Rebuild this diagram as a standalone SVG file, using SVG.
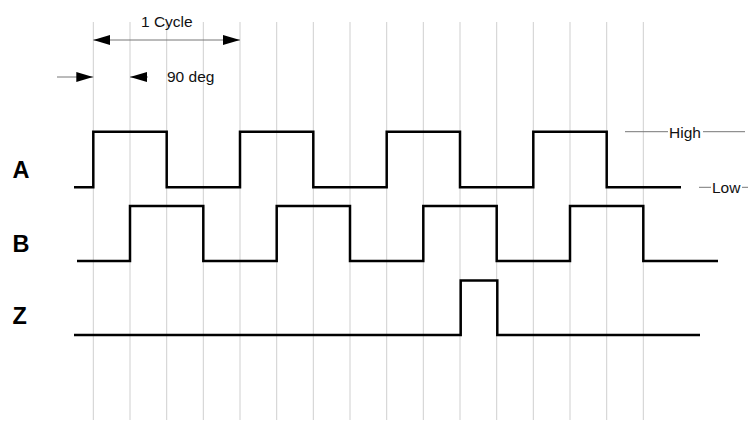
<svg xmlns="http://www.w3.org/2000/svg" width="748" height="421" viewBox="0 0 748 421">
<defs>
<style>
.grid{stroke:#cfcfcf;stroke-width:1;fill:none}
.sig{stroke:#000;stroke-width:2.5;fill:none;stroke-linejoin:miter}
.ann{stroke:#777;stroke-width:1;fill:none}
.lbl{font-family:"Liberation Sans",Arial,sans-serif;font-weight:bold;font-size:23.5px;fill:#000}
.txt{font-family:"Liberation Sans",Arial,sans-serif;font-size:15.5px;fill:#111}
</style>
<marker id="ah" viewBox="0 0 10 10" refX="10" refY="5" markerWidth="17" markerHeight="10" markerUnits="userSpaceOnUse" orient="auto-start-reverse" preserveAspectRatio="none">
<path d="M0,0 L10,5 L0,10 Z" fill="#000"/>
</marker>
</defs>
<rect width="748" height="421" fill="#fff"/>
<g id="grid">
<path class="grid" d="M93.3,22V420M130,22V420M166.7,22V420M203.3,22V420M240,22V420M276.7,22V420M313.3,22V420M350,22V420M386.7,22V420M423.3,22V420M460,22V420M496.7,22V420M533.3,22V420M570,22V420M606.7,22V420M643.3,22V420"/>
</g>
<g id="signal-A">
<path class="sig" d="M74,187.3H93.3V131.7H166.7V187.3H240V131.7H313.3V187.3H386.7V131.7H460V187.3H533.3V131.7H606.7V187.3H681"/>
<text class="lbl" x="12.5" y="178.3">A</text>
</g>
<g id="signal-B">
<path class="sig" d="M77,261H130V206H203.3V261H276.7V206H350V261H423.3V206H496.7V261H570V206H643.3V261H718"/>
<text class="lbl" x="12.5" y="251.7">B</text>
</g>
<g id="signal-Z">
<path class="sig" d="M74,335H460.7V280.5H497.3V335H700"/>
<text class="lbl" x="12.5" y="324.3">Z</text>
</g>
<g id="connectors">
<line class="ann" x1="93.3" y1="40" x2="240" y2="40" stroke="#555" marker-start="url(#ah)" marker-end="url(#ah)"/>
<line class="ann" x1="57" y1="77" x2="93.3" y2="77" stroke="#555" marker-end="url(#ah)"/>
<line class="ann" x1="148" y1="77" x2="130" y2="77" stroke="none" marker-end="url(#ah)"/>
<line class="ann" x1="625" y1="131.7" x2="668" y2="131.7" stroke="#999"/>
<line class="ann" x1="703" y1="131.7" x2="745" y2="131.7" stroke="#999"/>
<line class="ann" x1="699" y1="187.3" x2="711" y2="187.3" stroke="#999"/>
<line class="ann" x1="742" y1="187.3" x2="748" y2="187.3" stroke="#999"/>
</g>
<g id="annotations">
<text class="txt" x="141" y="26.6">1 Cycle</text>
<text class="txt" x="167" y="81.7">90 deg</text>
<text class="txt" x="669" y="137.6">High</text>
<text class="txt" x="712" y="193.2">Low</text>
</g>
</svg>
